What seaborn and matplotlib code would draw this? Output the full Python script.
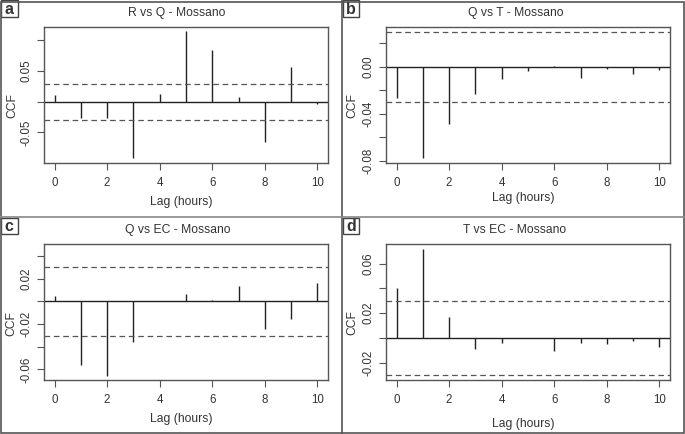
import numpy as np
import pandas as pd
import seaborn as sns
import matplotlib
matplotlib.use("Agg")
import matplotlib.pyplot as plt
from matplotlib.lines import Line2D
from matplotlib.patches import Rectangle

# ---------------- data ----------------
lags = list(range(11))
ccf_r_q = [0.011, -0.027, -0.026, -0.092, 0.012, 0.115, 0.084, 0.007, -0.066, 0.057, -0.004]
ccf_q_t = [-0.0263, -0.0775, -0.0486, -0.0229, -0.0102, -0.004, 0.0006, -0.0093, -0.0017, -0.0062, -0.0028]
ccf_q_ec = [0.005, -0.0565, -0.0656, -0.0356, 0.0, 0.0065, 0.0012, 0.0132, -0.0244, -0.0153, 0.0162]
ccf_t_ec = [0.0403, 0.0719, 0.0169, -0.0091, -0.004, 0.0, -0.0107, -0.0038, -0.0051, -0.0027, -0.0075]
conf_limits = [0.0295, 0.0298, 0.0303, 0.030]
titles = ["R vs Q - Mossano", "Q vs T - Mossano", "Q vs EC - Mossano", "T vs EC - Mossano"]
panel_letters = ["a", "b", "c", "d"]
x_ticks = [0, 2, 4, 6, 8, 10]
y_ticks = [[-0.05, 0.0, 0.05, 0.10],
           [-0.08, -0.06, -0.04, -0.02, 0.0, 0.02],
           [-0.06, -0.04, -0.02, 0.0, 0.02, 0.04],
           [-0.02, 0.0, 0.02, 0.04, 0.06]]
y_tick_labels = [["-0.05", "", "0.05", ""],
                 ["-0.08", "", "-0.04", "", "0.00", ""],
                 ["-0.06", "", "-0.02", "", "0.02", ""],
                 ["-0.02", "", "0.02", "", "0.06"]]
series = [ccf_r_q, ccf_q_t, ccf_q_ec, ccf_t_ec]

# ---------------- style ----------------
sns.set_theme(style="white")
plt.rcParams["font.family"] = ["Liberation Sans", "DejaVu Sans"]

W, H = 685, 434
fig = plt.figure(figsize=(W / 100, H / 100), dpi=100)
fig.patch.set_facecolor("white")

ylims = [(-0.100, 0.1217), (-0.082, 0.0339), (-0.0694, 0.0506), (-0.0341, 0.076)]
offsets = [(0, 0), (342, 0), (0, 217), (342, 217)]
title_x = [177, 516, 178, 515]
xlab_y = [202, 198, 419, 424]
ylab_x = [12, 352, 11, 352]
ylab_y = [106, 106, 324, 323]

line_col = "#222222"
box_col = "#555555"
text_col = "#333333"
fs = 8.3

for i in range(4):
    ox, oy = offsets[i]
    left, right, top, bottom = ox + 44, ox + 328, oy + 27, oy + 163
    ax = fig.add_axes([left / W, 1 - bottom / H, (right - left) / W, (bottom - top) / H])
    df = pd.DataFrame({"lag": lags, "ccf": series[i]})
    ax.vlines(df["lag"], 0, df["ccf"], color=line_col, lw=1.0)
    ax.axhline(0, color=line_col, lw=1.0)
    ci = conf_limits[i]
    for c in (ci, -ci):
        ax.axhline(c, color="#555555", lw=0.9, linestyle=(0, (4.5, 3)))
    ax.set_xlim(-0.4, 10.4)
    ax.set_ylim(*ylims[i])
    ax.set_xticks(x_ticks)
    ax.set_xticklabels([str(t) for t in x_ticks], fontsize=fs, color=text_col)
    ax.set_yticks(y_ticks[i])
    ax.set_yticklabels(y_tick_labels[i], fontsize=fs, color=text_col,
                       rotation=90, va="center")
    ax.tick_params(axis="both", which="both", direction="out", length=5,
                   width=0.8, color=box_col, left=True, bottom=True)
    ax.tick_params(axis="x", pad=5)
    ax.tick_params(axis="y", pad=3)
    for sp in ax.spines.values():
        sp.set_visible(True)
        sp.set_color(box_col)
        sp.set_linewidth(1.0)
    ax.set_facecolor("white")
    ax.grid(False)

    fig.text(title_x[i] / W, 1 - (oy + 13) / H, titles[i], ha="center", va="center",
             fontsize=fs + 0.4, color=text_col)
    fig.text((ox + 181) / W, 1 - xlab_y[i] / H,
             "Lag (hours)", ha="center", va="center", fontsize=fs + 0.4, color=text_col)
    fig.text(ylab_x[i] / W, 1 - ylab_y[i] / H, "CCF", ha="center", va="center",
             rotation=90, fontsize=fs + 0.4, color=text_col)

    # panel letter box
    fig.add_artist(Rectangle(((ox + 0.5) / W, 1 - (oy + 17) / H), 17 / W, 16.5 / H,
                             transform=fig.transFigure, fill=False,
                             edgecolor="#444444", lw=1.0))
    fig.text((ox + 9) / W, 1 - (oy + 9.5) / H, panel_letters[i], ha="center",
             va="center", fontsize=11.5, fontweight="bold", color="#333333")

# outer frame and separators
frame_col = "#555555"
fig.add_artist(Rectangle((1 / W, 1 / H), (W - 2.5) / W, (H - 2.5) / H,
                         transform=fig.transFigure, fill=False,
                         edgecolor=frame_col, lw=1.2))
fig.add_artist(Line2D([342 / W, 342 / W], [0, 1], transform=fig.transFigure,
                      color=frame_col, lw=1.2))
fig.add_artist(Line2D([0, 1], [1 - 217 / H, 1 - 217 / H], transform=fig.transFigure,
                      color="#888888", lw=1.2))

fig.savefig("out.png", dpi=100, facecolor="white")
